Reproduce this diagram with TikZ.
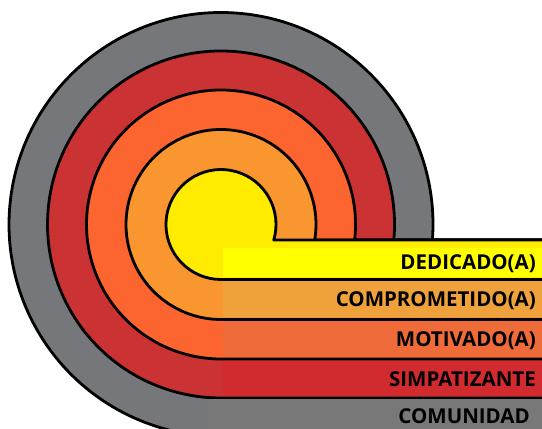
\documentclass[tikz,border=0pt]{standalone}
\usepackage{fontspec}
\setmainfont{Open Sans}
\usepackage{tikz}
\usetikzlibrary{calc}

\definecolor{cgray}{RGB}{117,119,123}
\definecolor{cred}{RGB}{203,50,52}
\definecolor{corange}{RGB}{253,101,48}
\definecolor{clight}{RGB}{249,150,47}
\definecolor{cyellow}{RGB}{255,236,0}
\definecolor{bgray}{RGB}{120,120,120}
\definecolor{bred}{RGB}{209,43,47}
\definecolor{borange}{RGB}{239,107,58}
\definecolor{blight}{RGB}{239,161,60}
\definecolor{byellow}{RGB}{255,255,0}

\begin{document}
\begin{tikzpicture}[x=1pt,y=1pt,
  layer/.style={draw=black,line width=2.8pt,line join=round},
  level/.style={anchor=east,inner xsep=6pt,inner ysep=0pt,text width=307pt,align=right,
    text height=14.5pt,text depth=0pt,font=\fontsize{20.5}{21}\selectfont\bfseries}]

\useasboundingbox (0,0) rectangle (542,429);
\clip (0,0) rectangle (542,429);

\coordinate (c) at (221,204.5);

% rings, outside in
\filldraw[layer,fill=cgray] ([shift={(-4.19:212)}]c) arc[start angle=-4.19,end angle=270,radius=212] -- (548,-7.5) -- (548,189) -- cycle;
\filldraw[layer,fill=cred] ([shift={(-5.13:173.5)}]c) arc[start angle=-5.13,end angle=270,radius=173.5] -- (548,31) -- (548,189) -- cycle;
\filldraw[layer,fill=corange] ([shift={(-6.62:134.5)}]c) arc[start angle=-6.62,end angle=270,radius=134.5] -- (548,70) -- (548,189) -- cycle;
\filldraw[layer,fill=clight] ([shift={(-9.39:95)}]c) arc[start angle=-9.39,end angle=270,radius=95] -- (548,109.5) -- (548,189) -- cycle;
\filldraw[layer,fill=cyellow] ([shift={(-16.37:55)}]c) arc[start angle=-16.37,end angle=270,radius=55] -- (548,149.5) -- (548,189) -- cycle;

% labels
\node[level,fill=byellow,minimum height=29pt] (dedicado) at (542,166.5) {DEDICADO(A)};
\node[level,fill=blight,minimum height=36pt] (comprometido) at (542,129.5) {COMPROMETIDO(A)};
\node[level,fill=borange,minimum height=36pt] (motivado) at (542,89.5) {MOTIVADO(A)};
\node[level,fill=bred,minimum height=35pt] (simpatizante) at (542,50) {SIMPATIZANTE};
\node[level,fill=bgray,minimum height=35pt,text width=310pt,inner xsep=12pt] (comunidad) at (542,12.5) {COMUNIDAD};

\end{tikzpicture}
\end{document}
